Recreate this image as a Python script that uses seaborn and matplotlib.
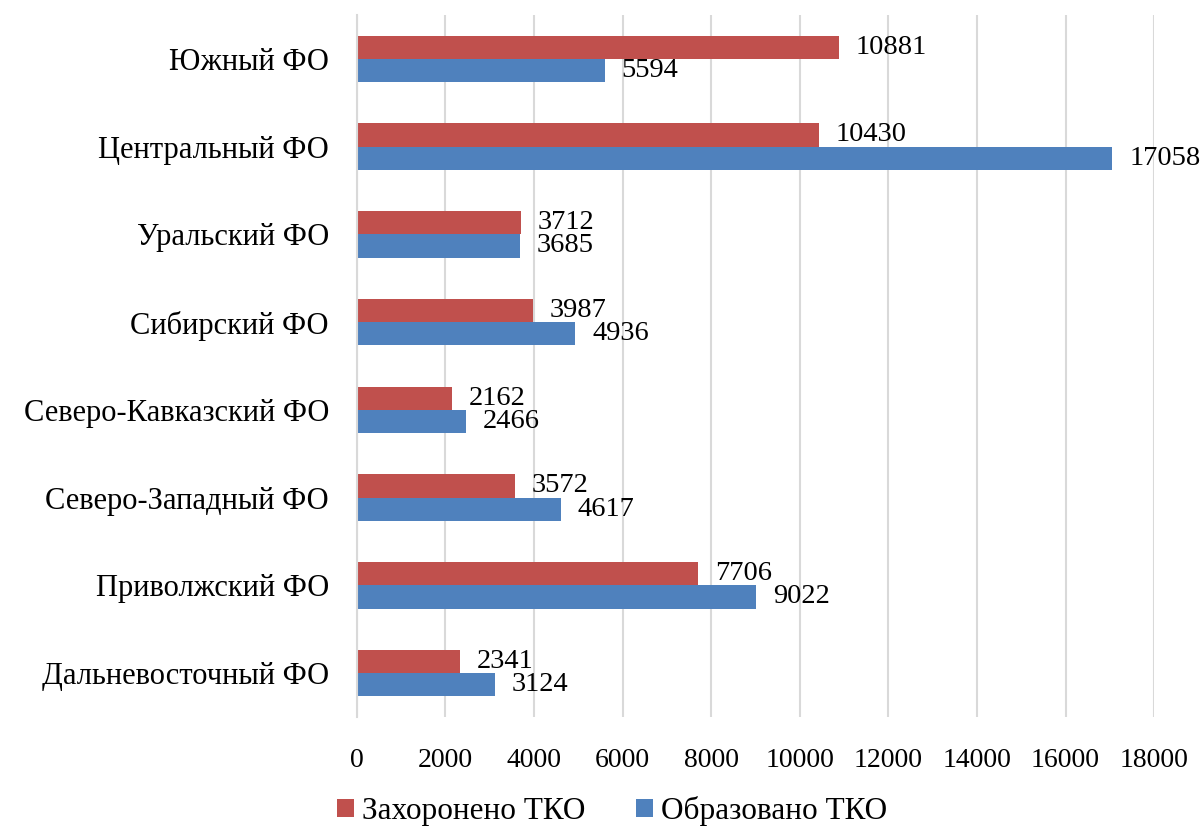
import matplotlib
matplotlib.use("Agg")
import matplotlib.pyplot as plt
import seaborn as sns
import pandas as pd

regions = ["Южный ФО", "Центральный ФО", "Уральский ФО", "Сибирский ФО",
           "Северо-Кавказский ФО", "Северо-Западный ФО", "Приволжский ФО",
           "Дальневосточный ФО"]
buried = [10881, 10430, 3712, 3987, 2162, 3572, 7706, 2341]
generated = [5594, 17058, 3685, 4936, 2466, 4617, 9022, 3124]
series_names = ["Захоронено ТКО", "Образовано ТКО"]
x_ticks = [0, 2000, 4000, 6000, 8000, 10000, 12000, 14000, 16000, 18000]

df = pd.DataFrame({
    "region": regions * 2,
    "value": buried + generated,
    "series": [series_names[0]] * len(regions) + [series_names[1]] * len(regions),
})

sns.set_theme(style="white")
plt.rcParams["font.family"] = ["Liberation Serif", "DejaVu Serif"]
plt.rcParams["text.color"] = "black"
plt.rcParams["xtick.color"] = "black"
plt.rcParams["ytick.color"] = "black"

fig = plt.figure(figsize=(12.01, 8.27), dpi=100)
ax = fig.add_axes([0.297, 0.133, 0.664, 0.849])

sns.barplot(data=df, y="region", x="value", hue="series", orient="h",
            order=regions, hue_order=series_names,
            palette=["#C0504D", "#4F81BD"], width=0.53, saturation=1,
            linewidth=0, ax=ax, legend=True)

for c in ax.containers:
    ax.bar_label(c, labels=[f"{int(v.get_width())}" for v in c], padding=12,
                 fontsize=20.5, color="black")

ax.set_xlim(0, 18000)
ax.set_xticks(x_ticks)
ax.set_xticklabels([str(t) for t in x_ticks], fontsize=20)
ax.tick_params(axis="x", length=0, pad=22, colors="black")
ax.tick_params(axis="y", length=0, pad=20, labelsize=22, colors="black")
ax.set_xlabel("")
ax.set_ylabel("")
ax.grid(axis="x", color="#D9D9D9", linewidth=1.5)
ax.set_axisbelow(True)
for s in ["top", "right", "bottom"]:
    ax.spines[s].set_visible(False)
ax.spines["left"].set_color("#D9D9D9")
ax.spines["left"].set_linewidth(1.5)

handles, labels = ax.get_legend_handles_labels()
ax.get_legend().remove()
fig.legend(handles, labels, loc="center", bbox_to_anchor=(612 / 1201, 1 - 811 / 827),
           ncol=2, frameon=False, fontsize=22.5, handlelength=0.55, handleheight=0.55,
           handletextpad=0.25, columnspacing=1.6, borderpad=0)

fig.savefig("out.png", dpi=100)
